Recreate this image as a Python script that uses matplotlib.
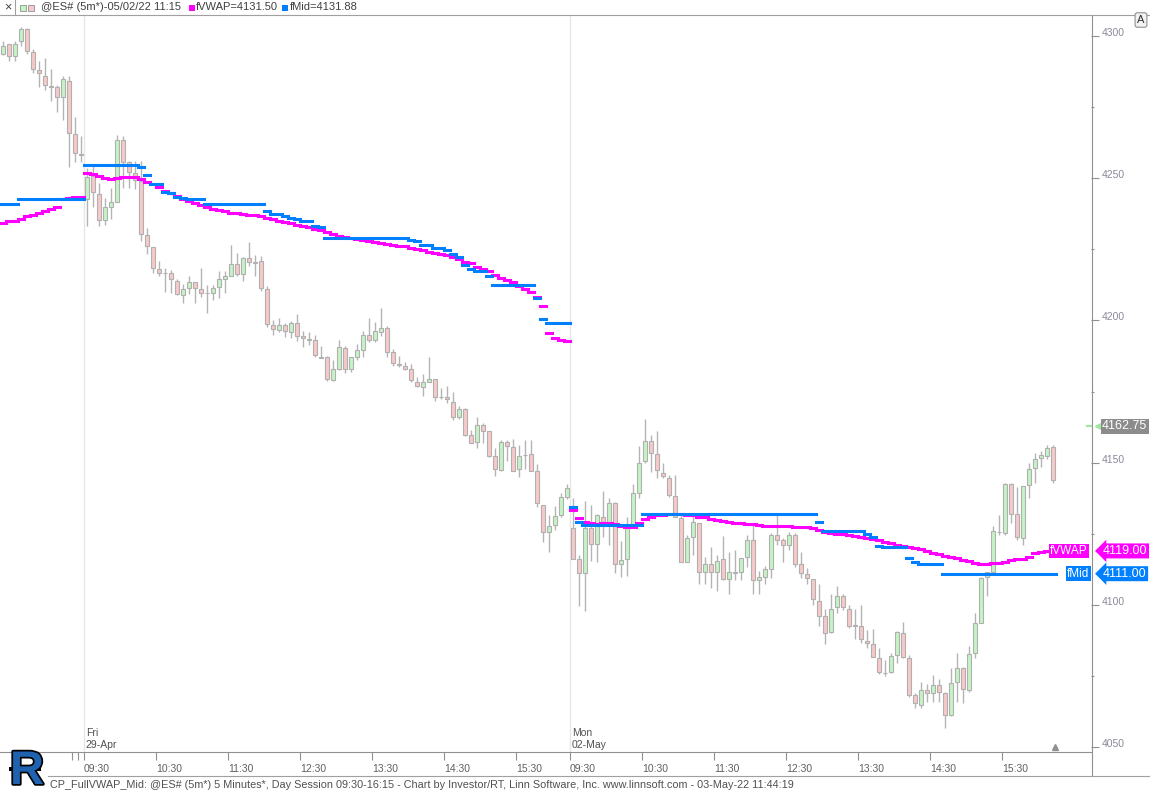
import matplotlib
matplotlib.use("Agg")
import matplotlib.pyplot as plt
import matplotlib.patheffects as pe
import matplotlib.transforms as mtransforms
from matplotlib.patches import Rectangle
from matplotlib.lines import Line2D
import numpy as np

plt.rcParams['font.family'] = ['Liberation Sans', 'DejaVu Sans']

# ES 5-minute bars: last 14 bars of Thu, Fri 29-Apr (81 bars), Mon 02-May (81 bars)
opens = [4293.75, 4297.0, 4293.0, 4298.0, 4302.5, 4294.25, 4288.0, 4286.0, 4282.5, 4282.0, 4278.5, 4284.25, 4265.5, 4258.25,
         4242.5, 4250.75, 4244.25, 4235.25, 4240.0, 4241.75, 4263.25, 4255.5, 4251.75, 4249.0,
         4230.0, 4225.75, 4218.0, 4216.5, 4216.5, 4214.0, 4208.75, 4211.25, 4213.5, 4211.0,
         4209.5, 4209.5, 4211.75, 4214.5, 4215.75, 4219.75, 4216.25, 4221.75, 4220.5, 4221.0,
         4211.0, 4198.25, 4196.5, 4198.5, 4195.75, 4199.25, 4194.5, 4193.25, 4193.25, 4187.0,
         4187.0, 4179.0, 4183.0, 4190.25, 4183.0, 4187.0, 4189.5, 4195.0, 4193.0, 4196.0,
         4197.25, 4188.75, 4184.75, 4184.0, 4182.75, 4178.5, 4176.5, 4178.5, 4179.25, 4173.25,
         4173.25, 4171.5, 4166.0, 4169.0, 4159.75, 4157.25, 4163.25, 4161.0, 4152.5, 4147.5,
         4157.25, 4155.5, 4147.75, 4152.75, 4153.0, 4147.0, 4135.0, 4125.5, 4128.0, 4131.5, 4138.0,
         4127.0, 4116.0, 4111.25, 4127.0, 4121.5, 4131.0, 4129.0, 4135.75, 4114.25, 4116.0,
         4127.5, 4139.5, 4150.75, 4157.75, 4153.0, 4146.5, 4144.75, 4138.25, 4130.5, 4115.25,
         4123.75, 4128.75, 4111.5, 4114.25, 4111.75, 4116.0, 4109.0, 4111.5, 4111.75, 4116.75,
         4123.0, 4108.75, 4110.0, 4112.5, 4124.5, 4122.75, 4121.25, 4124.5, 4114.25, 4110.75,
         4109.0, 4101.25, 4096.0, 4090.5, 4099.25, 4103.0, 4098.75, 4092.75, 4092.75, 4087.5,
         4086.25, 4081.5, 4076.25, 4076.5, 4082.5, 4090.0, 4081.5, 4068.25, 4065.0, 4070.0,
         4069.0, 4072.0, 4069.0, 4061.5, 4073.0, 4077.75, 4070.0, 4083.0, 4093.75, 4110.0, 4111.75,
         4125.5, 4125.25, 4142.5, 4132.0, 4123.5, 4142.0, 4148.0, 4151.5, 4152.5, 4155.5]
highs = [4298.0, 4297.25, 4298.25, 4303.0, 4302.75, 4295.5, 4291.0, 4292.25, 4288.25, 4282.75, 4286.0, 4286.0, 4271.5, 4264.75,
         4253.5, 4254.25, 4248.25, 4243.0, 4246.5, 4265.0, 4264.75, 4256.0, 4256.0, 4256.0,
         4232.5, 4225.75, 4220.75, 4218.5, 4217.75, 4214.5, 4212.75, 4215.5, 4213.5, 4218.25,
         4212.5, 4212.5, 4217.5, 4217.5, 4226.5, 4223.75, 4222.25, 4227.5, 4223.0, 4222.5,
         4212.0, 4200.0, 4201.0, 4199.25, 4199.75, 4202.25, 4196.25, 4196.0, 4194.75, 4191.0,
         4187.5, 4186.0, 4193.0, 4191.0, 4187.25, 4191.75, 4196.25, 4201.0, 4199.5, 4204.5,
         4198.0, 4190.0, 4187.5, 4185.5, 4184.75, 4180.25, 4181.25, 4187.25, 4179.5, 4176.25,
         4177.0, 4174.75, 4169.75, 4169.25, 4161.5, 4166.0, 4164.0, 4161.25, 4155.0, 4158.0,
         4158.0, 4158.5, 4156.25, 4158.0, 4158.0, 4149.5, 4135.0, 4131.75, 4134.75, 4139.25, 4142.5,
         4137.5, 4117.5, 4136.5, 4135.25, 4132.0, 4140.0, 4137.5, 4136.25, 4122.5, 4131.0,
         4142.5, 4155.75, 4165.5, 4159.75, 4161.0, 4150.0, 4145.75, 4145.75, 4132.25, 4124.5,
         4131.5, 4128.75, 4117.0, 4120.25, 4117.5, 4124.25, 4118.75, 4119.25, 4116.5, 4124.5,
         4128.0, 4112.0, 4113.75, 4125.25, 4132.25, 4123.5, 4125.5, 4125.25, 4118.75, 4113.0,
         4109.0, 4107.5, 4098.75, 4103.75, 4106.75, 4103.75, 4100.0, 4098.75, 4100.0, 4091.25,
         4091.5, 4084.75, 4080.75, 4083.0, 4091.0, 4094.0, 4082.5, 4069.25, 4073.0, 4072.25,
         4075.25, 4074.0, 4069.5, 4078.0, 4083.0, 4078.25, 4085.5, 4097.25, 4110.0, 4111.75, 4127.75,
         4131.5, 4143.0, 4142.75, 4141.5, 4141.75, 4149.75, 4153.25, 4154.0, 4156.25, 4156.25]
lows = [4293.25, 4291.25, 4291.0, 4296.5, 4293.75, 4287.0, 4282.0, 4281.0, 4277.25, 4273.25, 4270.5, 4253.75, 4255.75, 4255.75,
        4233.0, 4239.75, 4233.25, 4233.5, 4235.5, 4241.5, 4246.5, 4246.5, 4246.25, 4227.75,
        4223.25, 4216.5, 4215.75, 4210.0, 4209.75, 4208.75, 4206.0, 4209.25, 4206.0, 4208.25,
        4202.75, 4207.25, 4208.0, 4209.75, 4215.5, 4215.75, 4214.0, 4219.0, 4215.75, 4210.5,
        4197.75, 4195.0, 4195.75, 4194.0, 4193.75, 4192.75, 4190.5, 4191.5, 4187.25, 4186.75,
        4178.75, 4178.75, 4182.5, 4181.5, 4181.75, 4186.0, 4187.25, 4192.5, 4192.5, 4194.5,
        4187.25, 4184.0, 4183.75, 4182.5, 4178.25, 4176.5, 4173.5, 4178.25, 4171.75, 4172.5,
        4171.0, 4165.0, 4165.25, 4159.5, 4157.0, 4155.0, 4157.0, 4152.0, 4145.5, 4147.0,
        4150.5, 4147.0, 4145.0, 4147.75, 4147.0, 4134.5, 4122.0, 4118.75, 4126.5, 4131.0, 4137.25,
        4116.0, 4099.5, 4098.0, 4115.5, 4115.0, 4124.0, 4121.0, 4111.25, 4110.0, 4110.25,
        4127.25, 4137.5, 4150.0, 4146.75, 4144.5, 4144.5, 4138.0, 4130.75, 4115.0, 4115.0,
        4117.5, 4107.5, 4107.5, 4106.0, 4105.0, 4108.75, 4104.0, 4108.75, 4108.75, 4113.5,
        4104.0, 4104.0, 4107.5, 4109.5, 4121.25, 4115.0, 4119.25, 4113.5, 4109.5, 4107.5,
        4100.0, 4092.5, 4086.25, 4090.25, 4097.25, 4098.25, 4091.75, 4088.0, 4086.75, 4084.75,
        4081.75, 4075.75, 4075.0, 4076.0, 4079.5, 4081.25, 4067.75, 4063.75, 4063.75, 4066.0,
        4066.0, 4066.0, 4056.75, 4061.0, 4066.0, 4065.5, 4069.5, 4081.25, 4093.5, 4103.25, 4111.5,
        4124.5, 4124.5, 4128.75, 4123.0, 4121.0, 4137.5, 4143.0, 4148.5, 4151.25, 4142.75]
closes = [4296.5, 4293.0, 4297.25, 4302.25, 4294.75, 4288.25, 4286.75, 4282.75, 4282.0, 4278.5, 4284.75, 4266.0, 4258.75, 4258.25,
          4250.5, 4245.0, 4235.25, 4239.75, 4241.5, 4263.25, 4255.5, 4252.0, 4249.25, 4230.5,
          4226.25, 4218.25, 4216.5, 4216.5, 4214.5, 4209.25, 4211.0, 4213.5, 4211.25, 4209.75,
          4209.5, 4211.5, 4214.5, 4215.5, 4219.75, 4216.25, 4221.75, 4220.5, 4220.25, 4211.5,
          4198.75, 4197.0, 4198.5, 4196.25, 4199.25, 4194.5, 4193.75, 4193.25, 4187.75, 4186.75,
          4179.25, 4182.75, 4190.5, 4183.0, 4187.0, 4189.5, 4195.0, 4193.0, 4196.25, 4197.5,
          4189.0, 4185.0, 4184.5, 4183.0, 4179.0, 4177.0, 4178.25, 4179.25, 4173.25, 4173.0,
          4172.25, 4166.0, 4169.0, 4159.75, 4157.0, 4163.25, 4161.25, 4152.25, 4147.75, 4157.25,
          4155.75, 4147.25, 4152.25, 4152.75, 4147.25, 4135.75, 4125.5, 4127.75, 4131.25, 4138.0, 4141.0,
          4116.25, 4111.25, 4127.0, 4121.5, 4131.5, 4129.0, 4135.75, 4114.5, 4115.75, 4127.5,
          4139.25, 4150.0, 4157.5, 4153.25, 4147.5, 4145.25, 4138.5, 4131.0, 4115.25, 4123.5,
          4129.0, 4111.5, 4114.25, 4111.75, 4115.5, 4109.0, 4111.5, 4111.25, 4116.5, 4123.0,
          4108.75, 4109.75, 4112.5, 4124.5, 4122.75, 4121.25, 4124.5, 4114.5, 4111.25, 4109.5,
          4102.0, 4096.0, 4090.25, 4098.75, 4103.0, 4099.25, 4092.75, 4092.75, 4088.0, 4086.5,
          4081.75, 4076.5, 4076.0, 4082.25, 4090.5, 4081.75, 4068.5, 4065.5, 4070.0, 4069.0,
          4072.0, 4069.5, 4061.5, 4072.75, 4077.75, 4070.5, 4082.75, 4093.5, 4109.5, 4111.5, 4126.0,
          4125.5, 4142.5, 4132.0, 4123.75, 4141.75, 4147.75, 4151.25, 4152.75, 4155.0, 4143.75]

# fVWAP study value per bar
vwap = [4234.25, 4234.75, 4235.0, 4235.75, 4236.75, 4237.0, 4237.75, 4238.5, 4239.25, 4239.75, 4242.5, 4243.0, 4243.5, 4243.5,
        4251.9, 4251.4, 4250.7, 4250.0, 4249.6, 4250.2, 4250.5, 4250.5, 4250.5, 4249.8,
        4248.7, 4247.8, 4246.7, 4245.5, 4244.8, 4243.7, 4242.7, 4242.1, 4241.4, 4240.7,
        4239.9, 4239.3, 4238.9, 4238.5, 4237.9, 4237.9, 4237.5, 4237.0, 4237.0, 4236.7,
        4236.1, 4235.7, 4235.0, 4234.7, 4234.3, 4233.6, 4233.2, 4232.9, 4232.2, 4231.9,
        4230.9, 4230.3, 4229.7, 4229.4, 4229.1, 4228.7, 4228.3, 4227.9, 4227.5, 4227.2,
        4226.9, 4226.5, 4226.3, 4226.3, 4225.6, 4225.2, 4224.8, 4224.1, 4223.7, 4223.4,
        4222.8, 4222.4, 4221.7, 4220.5, 4220.0, 4218.8, 4218.1, 4217.4, 4216.1, 4214.9,
        4214.1, 4213.5, 4212.2, 4211.1, 4210.0, 4208.2, 4205.1, 4195.6, 4193.8, 4193.1, 4192.8,
        4133.5, 4130.7, 4129.1, 4128.9, 4128.4, 4128.8, 4128.7, 4128.4, 4127.7, 4127.5,
        4127.5, 4128.8, 4130.3, 4131.0, 4131.6, 4131.7, 4132.0, 4132.0, 4132.0, 4131.7,
        4131.6, 4131.0, 4130.9, 4130.3, 4130.0, 4129.6, 4129.0, 4128.8, 4128.7, 4128.6,
        4128.4, 4128.2, 4127.7, 4127.7, 4127.7, 4127.7, 4127.7, 4127.4, 4127.4, 4127.4,
        4127.0, 4126.3, 4125.6, 4125.3, 4125.0, 4125.0, 4124.7, 4124.3, 4124.0, 4123.6,
        4123.3, 4122.8, 4122.2, 4121.9, 4121.2, 4120.8, 4120.4, 4119.9, 4119.5, 4118.9,
        4118.4, 4118.0, 4117.3, 4116.9, 4116.5, 4115.8, 4115.3, 4114.9, 4114.5, 4114.5, 4114.6,
        4114.9, 4115.2, 4115.7, 4116.1, 4116.1, 4116.8, 4118.4, 4118.7, 4119.1, 4119.1]

# fMid study value per bar
fmid = [4240.75, 4240.75, 4240.75, 4242.75, 4242.75, 4242.75, 4242.75, 4242.75, 4242.75, 4242.75, 4242.75, 4242.75, 4242.75, 4242.75,
        4254.75, 4254.75, 4254.75, 4254.75, 4254.75, 4254.75, 4254.75, 4254.75, 4254.75, 4253.75,
        4251.25, 4247.75, 4247.75, 4245.0, 4244.75, 4243.5, 4243.0, 4242.75, 4242.75, 4242.75,
        4241.0, 4241.0, 4241.0, 4241.0, 4241.0, 4241.0, 4241.0, 4241.0, 4241.0, 4241.0,
        4238.5, 4237.25, 4237.25, 4236.75, 4236.0, 4235.5, 4235.0, 4235.0, 4233.25, 4232.75,
        4229.0, 4229.0, 4229.0, 4229.0, 4229.0, 4229.0, 4229.0, 4229.0, 4229.0, 4229.0,
        4229.0, 4229.0, 4229.0, 4229.0, 4228.25, 4227.75, 4226.5, 4226.5, 4225.5, 4225.5,
        4224.75, 4223.5, 4222.25, 4219.5, 4218.0, 4217.25, 4217.25, 4215.5, 4212.5, 4212.5,
        4212.5, 4212.5, 4212.5, 4212.5, 4212.5, 4208.0, 4200.5, 4199.25, 4199.25, 4199.25, 4199.25,
        4134.5, 4129.0, 4128.25, 4128.25, 4128.25, 4128.25, 4128.25, 4128.25, 4128.25, 4128.25,
        4128.25, 4128.25, 4131.88, 4131.88, 4131.88, 4131.88, 4131.88, 4131.88, 4131.88, 4131.88,
        4131.88, 4131.88, 4131.88, 4131.88, 4131.88, 4131.88, 4131.88, 4131.88, 4131.88, 4131.88,
        4131.88, 4131.88, 4131.88, 4131.88, 4131.88, 4131.88, 4131.88, 4131.88, 4131.88, 4131.88,
        4131.88, 4129.0, 4126.0, 4126.0, 4126.0, 4126.0, 4126.0, 4126.0, 4126.0, 4125.0,
        4124.0, 4120.75, 4120.5, 4120.5, 4120.5, 4120.5, 4116.5, 4115.0, 4114.5, 4114.5,
        4114.5, 4114.5, 4111.0, 4111.0, 4111.0, 4111.0, 4111.0, 4111.0, 4111.0, 4111.0, 4111.0,
        4111.0, 4111.0, 4111.0, 4111.0, 4111.0, 4111.0, 4111.0, 4111.0, 4111.0, 4111.0]

hour_labels = ["09:30", "10:30", "11:30", "12:30", "13:30", "14:30", "15:30"]
fri_start = 14   # index of the 09:30 bar on Fri
mon_start = 95   # index of the 09:30 bar on Mon

W, H = 1150, 793
def fx(px):
    return px / W
def fy(py):
    return 1 - py / H


def flat_runs(vals):
    # group consecutive equal values so a flat stretch is one unbroken dash
    starts, ends, levels = [], [], []
    i = 0
    while i < len(vals):
        j = i
        while j + 1 < len(vals) and vals[j + 1] == vals[i]:
            j += 1
        starts.append(i - 0.5)
        ends.append(j + 0.5)
        levels.append(vals[i])
        i = j + 1
    return levels, starts, ends


fig = plt.figure(figsize=(11.5, 7.93), dpi=100)
ax = fig.add_axes([0, 41 / H, 1091 / W, 737 / H])

o = np.array(opens)
h = np.array(highs)
l = np.array(lows)
c = np.array(closes)
x = np.arange(len(o))

# session separators
for s in (fri_start, mon_start):
    ax.axvline(s - 0.5, color='#e6e6e6', lw=1, zorder=0)

# candles
ax.vlines(x, l, h, color='#b4b4b4', lw=1.0, zorder=2)
bottoms = np.minimum(o, c)
heights = np.maximum(np.abs(c - o), 0.12)
body_cols = np.where(c >= o, '#c4f4c4', '#f9c8c8')
ax.bar(x, heights, 0.72, bottom=bottoms, color=body_cols, edgecolor='#b0b0b0', linewidth=0.8, zorder=3)

# study lines drawn as one dash per bar
lv, s0, s1 = flat_runs(vwap)
ax.hlines(lv, s0, s1, color='#ff00ff', lw=2.2, capstyle='projecting', zorder=4)
lv, s0, s1 = flat_runs(fmid)
ax.hlines(lv, s0, s1, color='#0080ff', lw=2.2, capstyle='projecting', zorder=5)

ax.set_xlim(-0.5, 181.33)
ax.set_ylim(4048.35, 4307.3)

# x axis: hourly ticks, labels left-aligned at the tick
xt = [fri_start - 0.5 + 12 * k for k in range(7)] + [mon_start - 0.5 + 12 * k for k in range(7)]
ax.set_xticks(xt)
ax.set_xticklabels(hour_labels + hour_labels, ha='left')
ax.set_xticks([11.5, 12.5], minor=True)
ax.tick_params(axis='x', which='both', length=6, width=0.8, color='#909090',
               labelsize=7.5, labelcolor='#606060', pad=2.5)

# y axis on the right
ax.yaxis.tick_right()
ax.set_yticks([4050, 4100, 4150, 4200, 4250, 4300])
ax.set_yticks([4075, 4125, 4175, 4225, 4275], minor=True)
ax.tick_params(axis='y', which='major', length=6, width=0.8, color='#909090',
               labelsize=7.5, labelcolor='#8a8a9c', pad=1.5)
ax.tick_params(axis='y', which='minor', length=2.5, width=0.8, color='#909090')
shift = mtransforms.ScaledTranslation(0, 4 / 100, fig.dpi_scale_trans)
for t in ax.yaxis.get_major_ticks():
    t.label2.set_transform(t.label2.get_transform() + shift)

for side in ('left', 'top', 'right'):
    ax.spines[side].set_visible(False)
ax.spines['bottom'].set_color('#909090')
ax.spines['bottom'].set_linewidth(0.8)

# day labels inside the plot
tr = mtransforms.blended_transform_factory(ax.transData, ax.transAxes)
for s, d1, d2 in ((fri_start, 'Fri', '29-Apr'), (mon_start, 'Mon', '02-May')):
    ax.text(s - 0.2, 19 / 737, d1, transform=tr, ha='left', va='center', fontsize=7.5, color='#505050')
    ax.text(s - 0.2, 7 / 737, d2, transform=tr, ha='left', va='center', fontsize=7.5, color='#505050')

# last-bar marker at the bottom
ax.plot([len(o) - 0.7], [4050.2], marker='^', ms=4, color='#909090', clip_on=False, zorder=6)

# right axis line across the full chart height
fig.add_artist(Line2D([fx(1091.5)] * 2, [fy(14.5), fy(776)], color='#909090', lw=0.8))

# value labels on the right
trr = mtransforms.blended_transform_factory(fig.transFigure, ax.transData)
fig.text(fx(1102), 4162.75, '4162.75', transform=trr, ha='left', va='center', fontsize=9, color='white',
         bbox=dict(boxstyle='square,pad=0.12', fc='#8c8c8c', ec='none'))
fig.add_artist(Line2D([fx(1087), fx(1091)], [4162.75, 4162.75], color='#a0e8a0', lw=1.5, transform=trr))
fig.add_artist(Line2D([fx(1098)], [4162.75], marker='<', ms=5, color='#a0e8a0', transform=trr))

fig.text(fx(1050), 4119.0, 'fVWAP', transform=trr, ha='left', va='center', fontsize=8.5, color='white',
         bbox=dict(boxstyle='square,pad=0.12', fc='#ff00ff', ec='none'))
fig.text(fx(1103), 4119.0, '4119.00', transform=trr, ha='left', va='center', fontsize=9, color='white',
         bbox=dict(boxstyle='larrow,pad=0.12', fc='#ff00ff', ec='none'))
fig.text(fx(1067), 4111.0, 'fMid', transform=trr, ha='left', va='center', fontsize=8.5, color='white',
         bbox=dict(boxstyle='square,pad=0.12', fc='#0080ff', ec='none'))
fig.text(fx(1103), 4111.0, '4111.00', transform=trr, ha='left', va='center', fontsize=9, color='white',
         bbox=dict(boxstyle='larrow,pad=0.12', fc='#0080ff', ec='none'))

fig.text(fx(1141), fy(20), 'A', ha='center', va='center', fontsize=8, color='#303030',
         bbox=dict(boxstyle='round,pad=0.2', fc='#f2f2f2', ec='#909090', lw=0.8))

# header strip
fig.add_artist(Line2D([0, 1], [fy(14.5)] * 2, color='#a0a0a0', lw=0.8))
fig.add_artist(Line2D([fx(15), fx(15)], [fy(0), fy(14.5)], color='#a0a0a0', lw=0.8))
fig.text(fx(7.5), fy(7), '×', ha='center', va='center', fontsize=9, color='#404040')
fig.add_artist(Rectangle((fx(20), fy(11)), 6 / W, 6 / H, transform=fig.transFigure,
                         fc='#c4f4c4', ec='#909090', lw=0.6))
fig.add_artist(Rectangle((fx(28), fy(11)), 6 / W, 6 / H, transform=fig.transFigure,
                         fc='#f9c8c8', ec='#909090', lw=0.6))
fig.text(fx(41), fy(7), '@ES# (5m*)-05/02/22 11:15', ha='left', va='center', fontsize=8, color='#404040')
fig.add_artist(Rectangle((fx(189), fy(11)), 6 / W, 6 / H, transform=fig.transFigure, fc='#ff00ff', ec='none'))
fig.text(fx(196), fy(7), 'fVWAP=4131.50', ha='left', va='center', fontsize=8, color='#404040')
fig.add_artist(Rectangle((fx(282), fy(11)), 6 / W, 6 / H, transform=fig.transFigure, fc='#0080ff', ec='none'))
fig.text(fx(290), fy(7), 'fMid=4131.88', ha='left', va='center', fontsize=8, color='#404040')

# footer
fig.add_artist(Line2D([fx(48), 1], [fy(776)] * 2, color='#a0a0a0', lw=0.8))
fig.text(fx(50), fy(785), 'CP_FullVWAP_Mid: @ES# (5m*) 5 Minutes*, Day Session 09:30-16:15 - Chart by Investor/RT, '
         'Linn Software, Inc. www.linnsoft.com - 03-May-22 11:44:19',
         ha='left', va='center', fontsize=7.85, color='#505050')
fig.text(fx(27), fy(772), 'R', ha='center', va='center', fontsize=34, fontweight='bold', color='#1f63b0',
         path_effects=[pe.withStroke(linewidth=2.5, foreground='black')])
fig.add_artist(Rectangle((fx(9), fy(771)), 32 / W, 4 / H, transform=fig.transFigure, fc='black', ec='none'))

fig.savefig('out.png', dpi=100)
